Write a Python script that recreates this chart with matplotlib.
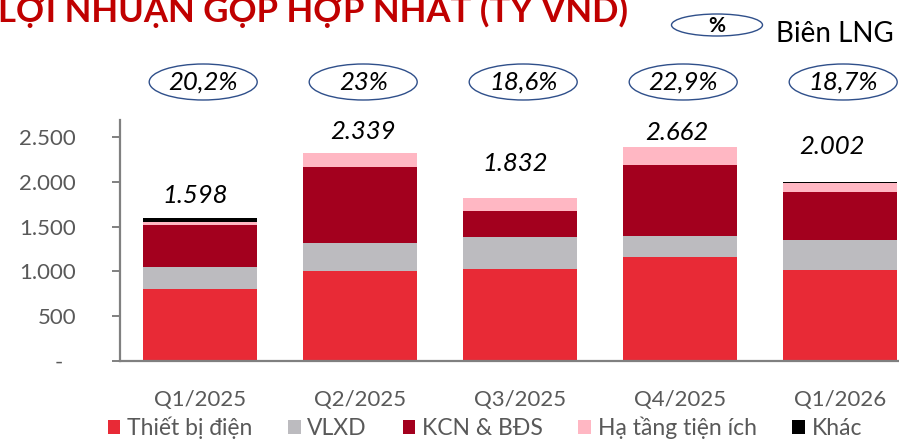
import matplotlib
matplotlib.use("Agg")
import matplotlib.pyplot as plt
from matplotlib.patches import Ellipse, Patch
from matplotlib.transforms import blended_transform_factory, ScaledTranslation

plt.rcParams['font.family'] = ['Lato', 'DejaVu Sans']

# ---------------- data ----------------
quarters = ["Q1/2025", "Q2/2025", "Q3/2025", "Q4/2025", "Q1/2026"]
thiet_bi_dien = [802, 1004, 1026, 1157, 1015]
vlxd = [247, 317, 362, 242, 339]
kcn_bds = [470, 843, 287, 794, 537]
ha_tang = [38, 164, 142, 202, 94]
khac = [35, 0, 0, 0, 11]
totals = ["1.598", "2.339", "1.832", "2.662", "2.002"]
margins = ["20,2%", "23%", "18,6%", "22,9%", "18,7%"]
series_names = ["Thiết bị điện", "VLXD", "KCN & BĐS", "Hạ tầng tiện ích", "Khác"]
yticks = [0, 500, 1000, 1500, 2000, 2500]
ytick_labels = ["-", "500", "1.000", "1.500", "2.000", "2.500"]
title = "LỢI NHUẬN GỘP HỢP NHẤT (TỶ VND)"

colors = ["#E82A36", "#BCBBBF", "#A3001E", "#FFB7C3", "#000000"]
grey = "#595959"

W, H = 899, 440
fig = plt.figure(figsize=(W / 100, H / 100), dpi=100)
ax = fig.add_axes([120 / W, (H - 360.7) / H, (W - 120) / W, (360.7 - 120) / H])

x = list(range(len(quarters)))
series = [thiet_bi_dien, vlxd, kcn_bds, ha_tang, khac]
bottom = [0] * len(quarters)
for vals, c in zip(series, colors):
    ax.bar(x, vals, width=0.71, bottom=bottom, color=c, linewidth=0, zorder=2)
    bottom = [b + v for b, v in zip(bottom, vals)]

ax.set_xlim(-0.5, (W - 200) / 160)
ax.set_ylim(0, 2694)

for s in ["top", "right"]:
    ax.spines[s].set_visible(False)
for s in ["left", "bottom"]:
    ax.spines[s].set_color("#808080")
    ax.spines[s].set_linewidth(1.6)

ax.set_yticks(yticks)
ax.set_yticklabels(ytick_labels)
ax.tick_params(axis="y", length=5.5, width=1.4, color="#808080", pad=26,
               labelsize=16, labelcolor=grey)
zero_lbl = ax.get_yticklabels()[0]
zero_lbl.set_transform(zero_lbl.get_transform() +
                       ScaledTranslation(-13 / 100, 0, fig.dpi_scale_trans))
ax.set_xticks(x)
ax.set_xticklabels(quarters)
ax.tick_params(axis="x", length=0, pad=21, labelsize=16, labelcolor=grey)

# total labels
label_y = [1854, 2568, 2212, 2559, 2395]
label_dx = [-0.03, 0.02, -0.03, -0.02, -0.05]
for xi, t, ly, dx in zip(x, totals, label_y, label_dx):
    ax.text(xi + dx, ly, t, ha="center", va="center", fontsize=18.5,
            style="italic", color="black")

# margin ellipses
trans = blended_transform_factory(ax.transData, fig.transFigure)
ey = 1 - 82 / H
for xi, m in zip(x, margins):
    e = Ellipse((xi + 0.02, ey), width=108 / 160, height=36 / H, transform=trans,
                facecolor="white", edgecolor="#2F4F8A", linewidth=1.0,
                clip_on=False)
    fig.add_artist(e)
    txt = fig.text(0, 0, m, transform=trans, ha="center", va="center",
                   fontsize=18.5, style="italic", color="black")
    txt.set_position((xi + 0.02, ey))

# legend ellipse for margin
e = Ellipse((717 / W, 1 - 25 / H), width=91 / W, height=22 / H,
            transform=fig.transFigure, facecolor="white", edgecolor="#2F4F8A",
            linewidth=1.0)
fig.add_artist(e)
fig.text(717 / W, 1 - 26 / H, "%", ha="center", va="center", fontsize=15,
         fontweight="bold", color="black")
fig.text(776 / W, 1 - 34 / H, "Biên LNG", ha="left", va="center", fontsize=20,
         color="black")

# title (clipped at top as in the source image)
fig.text(-2 / W, 1 - 22 / H, title, ha="left", va="baseline", fontsize=25,
         fontweight="bold", color="#C00000")

# legend
handles = [Patch(facecolor=c, edgecolor="none") for c in colors]
leg = fig.legend(handles, series_names, loc="center", ncol=5,
                 bbox_to_anchor=(485 / W, 1 - 428 / H), frameon=False,
                 fontsize=16.5, handlelength=0.55, handleheight=0.55,
                 handletextpad=0.3, columnspacing=1.55, borderpad=0)
for t in leg.get_texts():
    t.set_color(grey)

fig.savefig("out.png", dpi=100)
